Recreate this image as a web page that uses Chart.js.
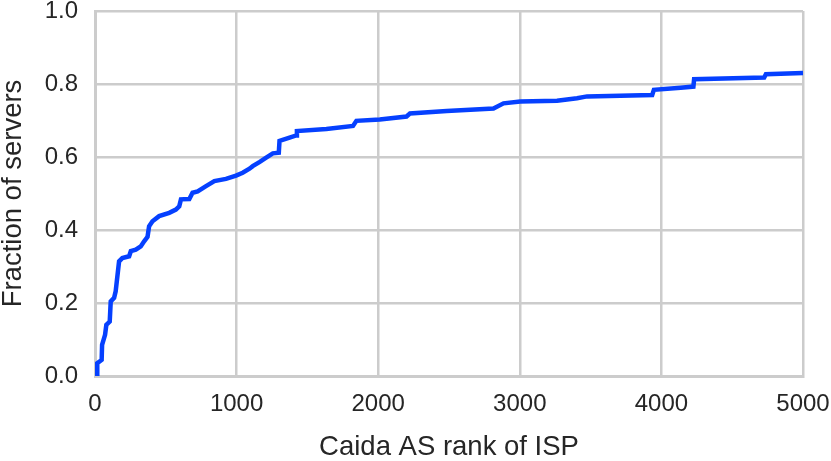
<!DOCTYPE html>
<html lang="en">
<head>
    <meta charset="UTF-8">
    <title>Fraction of servers by Caida AS rank</title>
    <script src="https://cdn.jsdelivr.net/npm/chart.js"></script>
    <style>
        html, body { margin: 0; padding: 0; background: #fff; }
        #wrap { width: 831px; height: 461px; }
    </style>
</head>
<body>
    <div id="wrap">
        <canvas id="rankChart"></canvas>
    </div>

    <script>
        // CDF: AS rank vs. fraction of servers
        const ranks = [15, 16, 47, 50, 71, 80, 104, 111, 135, 146, 170, 193, 241, 253, 288, 323, 347, 371,
            382, 406, 453, 524, 571, 595, 607, 666, 689, 725, 784, 843, 925, 996, 1043, 1091, 1114, 1161,
            1209, 1256, 1298, 1303, 1374, 1421, 1426, 1634, 1822, 1846, 2011, 2200, 2224, 2484, 2814, 2885,
            3003, 3263, 3404, 3475, 3935, 3947, 4136, 4226, 4231, 4726, 4738, 5000];
        const fractions = [0.0, 0.035, 0.044, 0.085, 0.113, 0.14, 0.149, 0.204, 0.214, 0.232, 0.314, 0.323,
            0.328, 0.342, 0.346, 0.355, 0.369, 0.381, 0.41, 0.424, 0.438, 0.447, 0.456, 0.465, 0.484, 0.485,
            0.502, 0.506, 0.52, 0.534, 0.54, 0.549, 0.557, 0.568, 0.575, 0.586, 0.598, 0.61, 0.612, 0.644,
            0.653, 0.659, 0.671, 0.677, 0.685, 0.699, 0.703, 0.711, 0.719, 0.726, 0.733, 0.747, 0.752, 0.754,
            0.761, 0.766, 0.77, 0.784, 0.79, 0.793, 0.813, 0.818, 0.827, 0.83];

        const points = ranks.map((r, i) => ({ x: r, y: fractions[i] }));
        const gridColor = '#cccccc';
        const textColor = '#262626';

        Chart.defaults.font.family = '"Liberation Sans", Arial, sans-serif';
        Chart.defaults.color = textColor;

        const ctx = document.getElementById('rankChart').getContext('2d');
        new Chart(ctx, {
            type: 'line',
            data: {
                datasets: [{
                    data: points,
                    borderColor: '#0540ff',
                    borderWidth: 4.5,
                    pointRadius: 0,
                    tension: 0,
                    fill: false
                }]
            },
            options: {
                responsive: true,
                maintainAspectRatio: false,
                animation: false,
                layout: { padding: { top: 11, right: 28, left: 0, bottom: 0 } },
                plugins: {
                    legend: { display: false },
                    tooltip: { enabled: false }
                },
                scales: {
                    x: {
                        type: 'linear',
                        min: 0,
                        max: 5000,
                        ticks: {
                            stepSize: 1000,
                            padding: 14,
                            font: { size: 24 },
                            color: textColor,
                            maxRotation: 0,
                            callback: v => String(v)
                        },
                        grid: { color: gridColor, lineWidth: 2.5, drawTicks: false },
                        border: { color: gridColor, width: 3 },
                        title: {
                            display: true,
                            text: 'Caida AS rank of ISP',
                            font: { size: 27.5, lineHeight: 1 },
                            padding: 0,
                            color: textColor
                        },
                        afterFit: scale => {
                            scale.height = 85;
                            scale.paddingLeft = 0;
                            scale.paddingRight = 0;
                        }
                    },
                    y: {
                        min: 0,
                        max: 1,
                        ticks: {
                            stepSize: 0.2,
                            padding: 17,
                            font: { size: 24 },
                            color: textColor,
                            callback: v => v.toFixed(1)
                        },
                        grid: { color: gridColor, lineWidth: 2.5, drawTicks: false },
                        border: { color: gridColor, width: 3 },
                        title: {
                            display: true,
                            text: 'Fraction of servers',
                            font: { size: 27.5, lineHeight: 1 },
                            padding: 0,
                            color: textColor
                        },
                        afterFit: scale => {
                            scale.width = 95;
                            scale.paddingTop = 0;
                            scale.paddingBottom = 0;
                        }
                    }
                }
            }
        });
    </script>
</body>
</html>
